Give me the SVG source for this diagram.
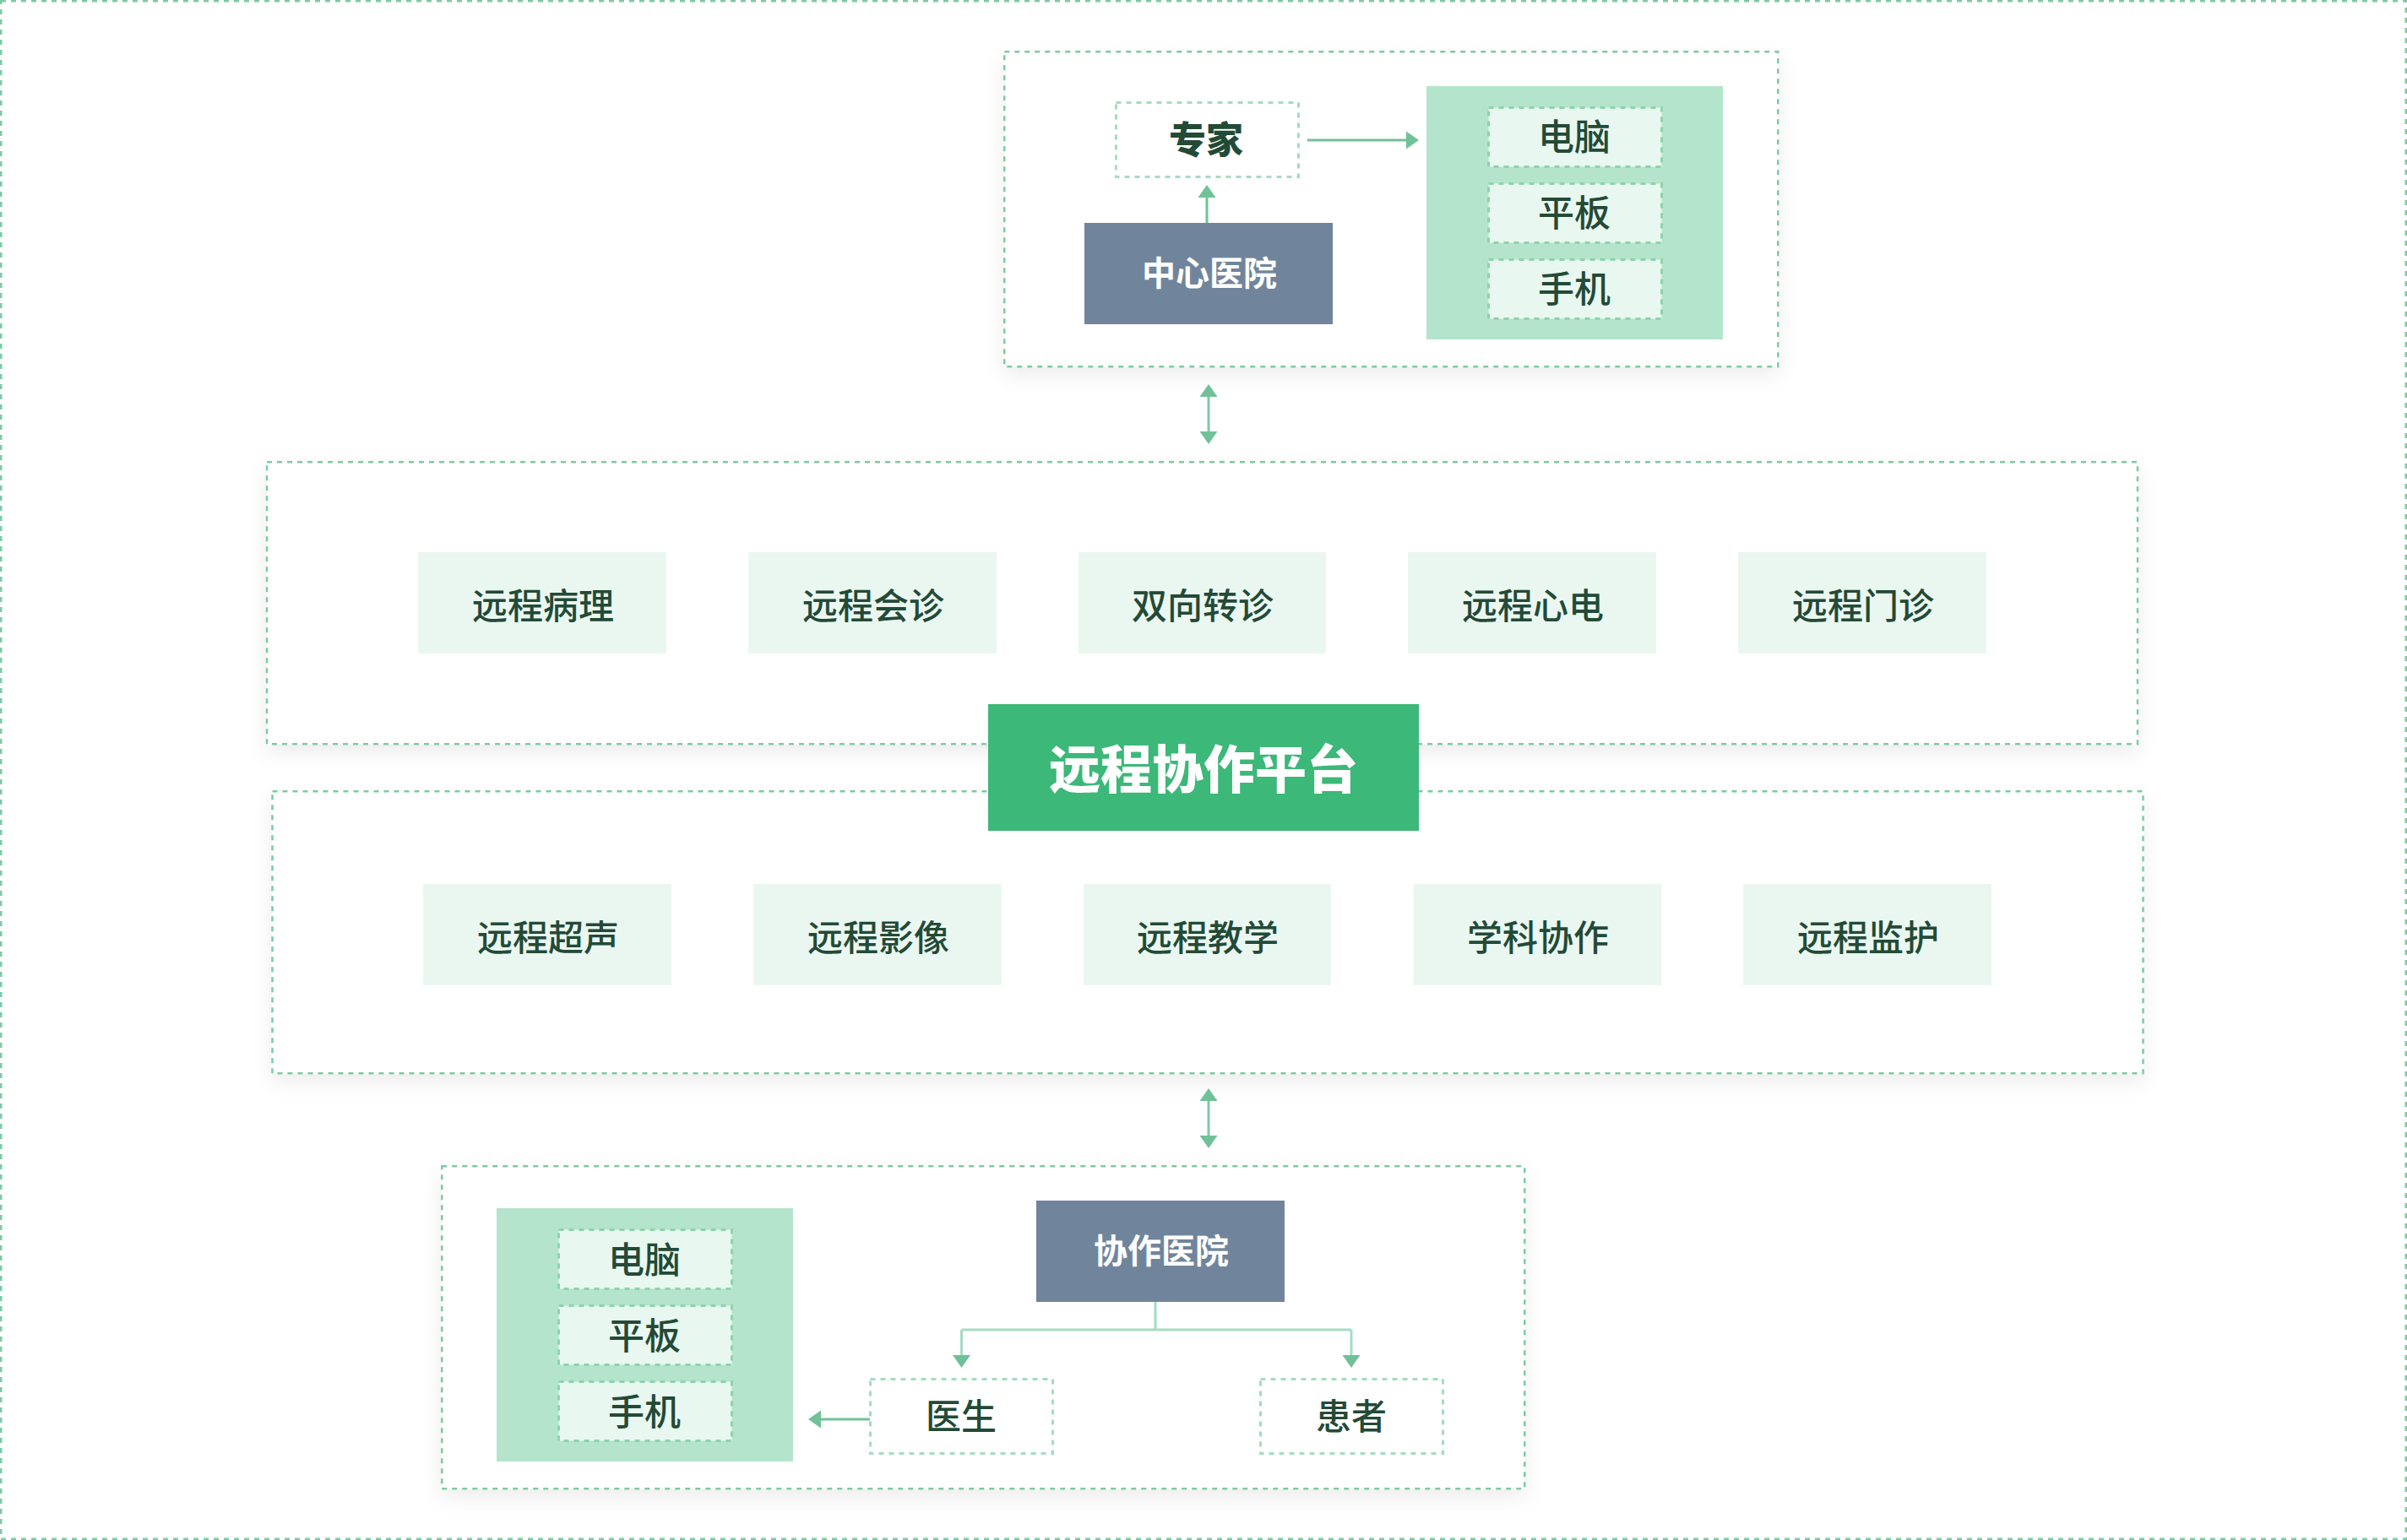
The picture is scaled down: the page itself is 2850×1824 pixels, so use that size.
<svg xmlns="http://www.w3.org/2000/svg" width="2850" height="1824" viewBox="0 0 2850 1824">
<style>
text{font-family:"Noto Sans CJK SC","Noto Sans",sans-serif;text-anchor:middle;fill:#234a36;font-size:42px;font-weight:500}
.b{font-weight:700}
.h{font-weight:900}
.w{fill:#fff}
.d{font-size:43px}
.frame{fill:#fff;stroke:#7ccba2;stroke-width:2.5;stroke-dasharray:6 6;filter:url(#sh)}
.dash{fill:#fff;stroke:#a5dcc0;stroke-width:3;stroke-dasharray:6 6}
.inner{fill:#e8f7ef;stroke:#8dd3ae;stroke-width:3;stroke-dasharray:6 6}
.panel{fill:#b4e5cc}
.item{fill:#eaf7f1}
.slate{fill:#70859b}
.c{fill:none;stroke:#71c198;stroke-width:3}
.t{fill:none;stroke:#7ccba2;stroke-width:3}
.l{fill:none;stroke:#a5dcc0;stroke-width:3}
</style>
<defs>
<filter id="sh" x="-5%" y="-10%" width="110%" height="125%"><feDropShadow dx="0" dy="10" stdDeviation="12" flood-color="#000" flood-opacity="0.07"/></filter>
<marker id="a" markerUnits="userSpaceOnUse" markerWidth="16" markerHeight="22" refX="5" refY="11" orient="auto-start-reverse"><path d="M0,0.5L15,11L0,21.5z" fill="#71c198"/></marker>
</defs>
<rect id="canvas" width="2850" height="1824" fill="#fff"/>
<rect id="outer-frame" x="1" y="1" width="2848" height="1822" fill="none" stroke="#7ccba2" stroke-width="3" stroke-dasharray="6 6"/>

<g id="center-hospital-box"><rect class="frame" x="1189.25" y="61.25" width="916" height="373"/></g>
<g id="services-top-box"><rect class="frame" x="316" y="547.25" width="2215" height="334"/></g>
<g id="services-bottom-box"><rect class="frame" x="322.5" y="937.25" width="2215" height="334"/></g>
<g id="partner-hospital-box"><rect class="frame" x="523.25" y="1381.25" width="1282" height="382"/></g>

<g id="expert"><rect class="dash" x="1321.5" y="121.5" width="216" height="88"/><text class="h" x="1428" y="182" style="font-size:44px">专家</text></g>
<g id="center-hospital"><rect class="slate" x="1284" y="264" width="294" height="120"/><text class="b w" x="1432" y="338" style="font-size:40px">中心医院</text></g>
<g id="devices-top">
<rect class="panel" x="1689" y="102" width="351" height="300"/>
<rect class="inner" x="1762.5" y="127.5" width="205" height="70"/><text class="d" x="1864" y="178">电脑</text>
<rect class="inner" x="1762.5" y="217.5" width="205" height="70"/><text class="d" x="1864" y="268">平板</text>
<rect class="inner" x="1762.5" y="307.5" width="205" height="70"/><text class="d" x="1864" y="358">手机</text>
</g>

<g id="svc-1"><rect class="item" x="495" y="654" width="294" height="120"/><text x="643" y="733">远程病理</text></g>
<g id="svc-2"><rect class="item" x="886" y="654" width="294" height="120"/><text x="1034" y="733">远程会诊</text></g>
<g id="svc-3"><rect class="item" x="1277" y="654" width="293" height="120"/><text x="1424" y="733">双向转诊</text></g>
<g id="svc-4"><rect class="item" x="1667" y="654" width="294" height="120"/><text x="1815" y="733">远程心电</text></g>
<g id="svc-5"><rect class="item" x="2058" y="654" width="294" height="120"/><text x="2206" y="733">远程门诊</text></g>

<g id="platform"><rect x="1170" y="834" width="510" height="150" fill="#3cb878"/><text class="h w" x="1425" y="934" style="font-size:61px">远程协作平台</text></g>

<g id="svc-6"><rect class="item" x="501" y="1047" width="294" height="120"/><text x="649" y="1126">远程超声</text></g>
<g id="svc-7"><rect class="item" x="892" y="1047" width="294" height="120"/><text x="1040" y="1126">远程影像</text></g>
<g id="svc-8"><rect class="item" x="1283" y="1047" width="293" height="120"/><text x="1430" y="1126">远程教学</text></g>
<g id="svc-9"><rect class="item" x="1673.5" y="1047" width="294" height="120"/><text x="1821" y="1126">学科协作</text></g>
<g id="svc-10"><rect class="item" x="2064" y="1047" width="294" height="120"/><text x="2212" y="1126">远程监护</text></g>

<g id="devices-bottom">
<rect class="panel" x="588" y="1431" width="351" height="300"/>
<rect class="inner" x="661.5" y="1456.5" width="205" height="70"/><text class="d" x="763" y="1508">电脑</text>
<rect class="inner" x="661.5" y="1546.5" width="205" height="70"/><text class="d" x="763" y="1598">平板</text>
<rect class="inner" x="661.5" y="1636.5" width="205" height="70"/><text class="d" x="763" y="1688">手机</text>
</g>
<g id="partner-hospital"><rect class="slate" x="1227" y="1422" width="294" height="120"/><text class="b w" x="1375" y="1496" style="font-size:40px">协作医院</text></g>
<g id="doctor"><rect class="dash" x="1030.5" y="1633.5" width="216" height="88"/><text x="1138" y="1693">医生</text></g>
<g id="patient"><rect class="dash" x="1492.5" y="1633.5" width="216" height="88"/><text x="1600" y="1693">患者</text></g>

<g id="connectors">
<path class="c" d="M1548,166H1670" marker-end="url(#a)"/>
<path class="c" d="M1429,264V229" marker-end="url(#a)"/>
<path class="t" d="M1431,465V516" marker-start="url(#a)" marker-end="url(#a)"/>
<path class="t" d="M1431,1299V1350" marker-start="url(#a)" marker-end="url(#a)"/>
<path class="l" d="M1368,1542V1575"/>
<path class="l" d="M1138.5,1575H1600"/>
<path class="l" d="M1138.5,1575V1610" marker-end="url(#a)"/>
<path class="l" d="M1600,1575V1610" marker-end="url(#a)"/>
<path class="c" d="M1030,1681H967" marker-end="url(#a)"/>
</g>
</svg>
